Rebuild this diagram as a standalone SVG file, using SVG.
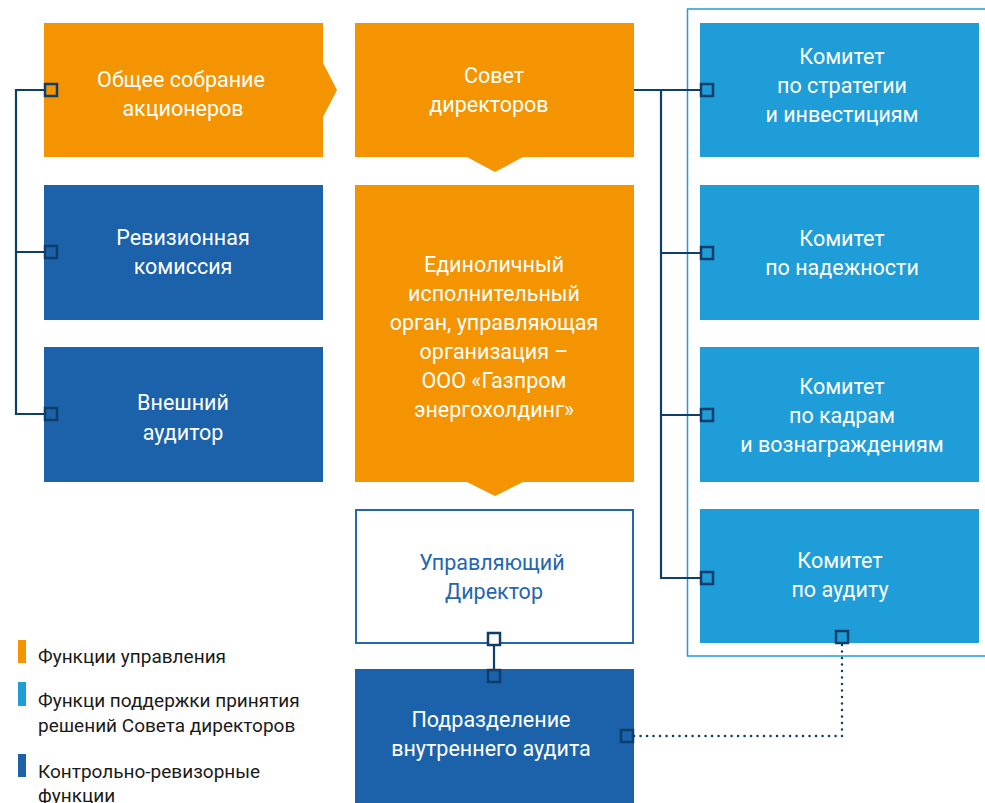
<svg xmlns="http://www.w3.org/2000/svg" width="985" height="803" viewBox="0 0 985 803">
  <style>
    .orange { fill: #f39400; }
    .dblue { fill: #1b62ab; }
    .lblue { fill: #1e9dd8; }
    .lbl { font-family: Roboto, "Noto Sans", "Liberation Sans", sans-serif; font-size: 21.5px; fill: #ffffff; text-anchor: middle; }
    .lbl.blue { fill: #2566b0; }
    .leg { font-family: Roboto, "Noto Sans", "Liberation Sans", sans-serif; font-size: 19px; fill: #1a1a1a; }
    .wire { fill: none; stroke: #0e3f6b; stroke-width: 2.2; }
    .dots { fill: none; stroke: #0e3f6b; stroke-width: 2.5; stroke-dasharray: 0.1 6.4; stroke-linecap: round; }
    .port { stroke: #0e3f6b; stroke-width: 2.5; }
  </style>

  <!-- committee frame -->
  <rect x="687.5" y="9" width="310" height="647" fill="none" stroke="#1e9dd8" stroke-width="1.5"/>

  <!-- left column -->
  <g id="shareholders">
    <polygon class="orange" points="44,23 323,23 323,63 337,90 323,117 323,157 44,157"/>
    <text class="lbl" x="181" y="87">Общее собрание</text>
    <text class="lbl" x="183" y="116">акционеров</text>
  </g>
  <g id="audit-commission">
    <rect class="dblue" x="44" y="185" width="279" height="135"/>
    <text class="lbl" x="183" y="245">Ревизионная</text>
    <text class="lbl" x="183" y="274">комиссия</text>
  </g>
  <g id="external-auditor">
    <rect class="dblue" x="44" y="347" width="279" height="135"/>
    <text class="lbl" x="183" y="410">Внешний</text>
    <text class="lbl" x="183" y="440">аудитор</text>
  </g>

  <!-- middle column -->
  <g id="board">
    <polygon class="orange" points="355,23 634,23 634,157 523,157 495,172 467,157 355,157"/>
    <text class="lbl" x="494" y="83">Совет</text>
    <text class="lbl" x="489" y="112">директоров</text>
  </g>
  <g id="executive">
    <polygon class="orange" points="355,185 634,185 634,482 523,482 495,496 467,482 355,482"/>
    <text class="lbl" x="494" y="272">Единоличный</text>
    <text class="lbl" x="494" y="301">исполнительный</text>
    <text class="lbl" x="494" y="330">орган, управляющая</text>
    <text class="lbl" x="494" y="359">организация –</text>
    <text class="lbl" x="494" y="388">ООО «Газпром</text>
    <text class="lbl" x="494" y="417">энергохолдинг»</text>
  </g>
  <g id="managing-director">
    <rect x="356" y="510" width="277" height="133" fill="#ffffff" stroke="#2566b0" stroke-width="2"/>
    <text class="lbl blue" x="492" y="570">Управляющий</text>
    <text class="lbl blue" x="494" y="599">Директор</text>
  </g>
  <g id="internal-audit">
    <rect class="dblue" x="355" y="669" width="279" height="140"/>
    <text class="lbl" x="491" y="727">Подразделение</text>
    <text class="lbl" x="491" y="756">внутреннего аудита</text>
  </g>

  <!-- committees -->
  <g id="committee-strategy">
    <rect class="lblue" x="700" y="23" width="279" height="134"/>
    <text class="lbl" x="842" y="64">Комитет</text>
    <text class="lbl" x="842" y="93">по стратегии</text>
    <text class="lbl" x="842" y="122">и инвестициям</text>
  </g>
  <g id="committee-reliability">
    <rect class="lblue" x="700" y="185" width="279" height="135"/>
    <text class="lbl" x="842" y="246">Комитет</text>
    <text class="lbl" x="842" y="275">по надежности</text>
  </g>
  <g id="committee-hr">
    <rect class="lblue" x="700" y="347" width="279" height="135"/>
    <text class="lbl" x="842" y="394">Комитет</text>
    <text class="lbl" x="842" y="423">по кадрам</text>
    <text class="lbl" x="842" y="452">и вознаграждениям</text>
  </g>
  <g id="committee-audit">
    <rect class="lblue" x="700" y="509" width="279" height="134"/>
    <text class="lbl" x="840" y="568">Комитет</text>
    <text class="lbl" x="840" y="597">по аудиту</text>
  </g>

  <!-- connectors -->
  <g id="connectors">
    <path class="wire" d="M45,90 H16 V414 H45 M16,252 H45"/>
    <path class="wire" d="M634,90 H701 M661,90 V578 H701 M661,253 H701 M661,415 H701"/>
    <path class="wire" d="M494,645 V670"/>
    <path class="dots" d="M634,736 H842 V644"/>
    <!-- ports -->
    <rect class="port" x="45" y="84" width="12" height="12" fill="#f39400"/>
    <rect class="port" x="45" y="246" width="12" height="12" fill="#1b62ab"/>
    <rect class="port" x="45" y="408" width="12" height="12" fill="#1b62ab"/>
    <rect class="port" x="701" y="84" width="12" height="12" fill="#1e9dd8"/>
    <rect class="port" x="701" y="247" width="12" height="12" fill="#1e9dd8"/>
    <rect class="port" x="701" y="409" width="12" height="12" fill="#1e9dd8"/>
    <rect class="port" x="701" y="572" width="12" height="12" fill="#1e9dd8"/>
    <rect class="port" x="488" y="633" width="12" height="12" fill="#ffffff"/>
    <rect class="port" x="488" y="670" width="12" height="12" fill="#1b62ab"/>
    <rect class="port" x="621" y="730" width="12" height="12" fill="#1b62ab"/>
    <rect class="port" x="836" y="631" width="12" height="12" fill="#1e9dd8"/>
  </g>

  <!-- legend -->
  <g id="legend">
    <rect class="orange" x="18" y="640" width="8" height="23"/>
    <text class="leg" x="38" y="663">Функции управления</text>
    <rect class="lblue" x="18" y="682" width="8" height="24"/>
    <text class="leg" x="38" y="707">Функци поддержки принятия</text>
    <text class="leg" x="38" y="732">решений Совета директоров</text>
    <rect class="dblue" x="18" y="754" width="8" height="23"/>
    <text class="leg" x="38" y="778">Контрольно-ревизорные</text>
    <text class="leg" x="38" y="802">функции</text>
  </g>
</svg>
